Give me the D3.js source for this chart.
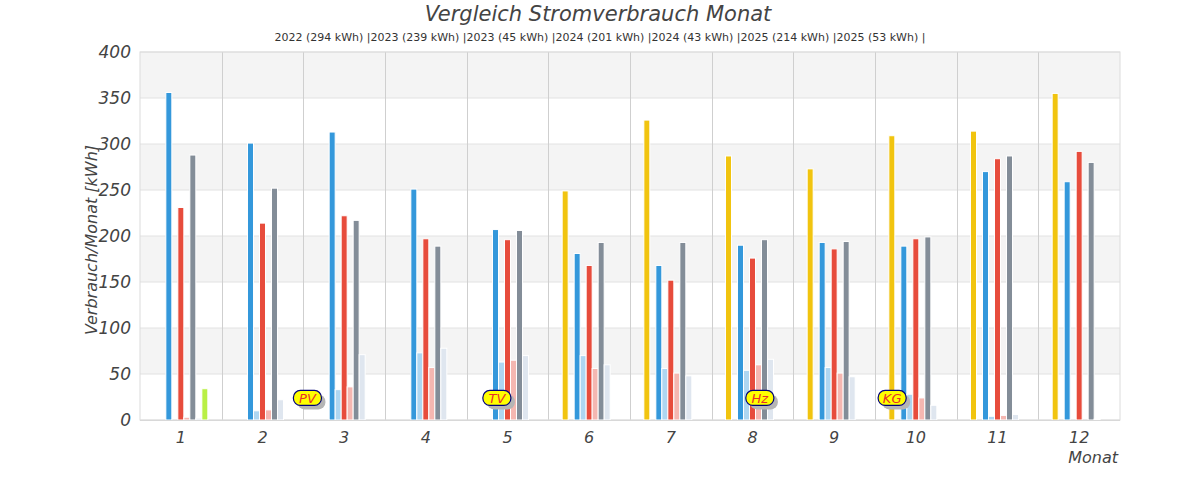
<!DOCTYPE html>
<html>
<head>
<meta charset="utf-8">
<script src="https://cdn.jsdelivr.net/npm/d3@7"></script>
<style>
  body { margin: 0; background: #fff; }
  text { font-family: "DejaVu Sans", sans-serif; }
</style>
</head>
<body>
<div id="container"></div>
<script>
// months on the x axis
const months = [1, 2, 3, 4, 5, 6, 7, 8, 9, 10, 11, 12];
// bar slots inside one month, "2022b" stays empty
const slots = ["2022", "2022b", "2023", "2023b", "2024", "2024b", "2025", "2025b", "extra"];

const v2022  = [0, 0, 0, 0, 0, 249, 326, 287, 273, 309, 314, 355];
const v2023  = [356, 301, 313, 251, 207, 181, 168, 190, 193, 189, 270, 259];
const v2023b = [0, 10, 33, 73, 63, 70, 56, 54, 57, 28, 4, 0];
const v2024  = [231, 214, 222, 197, 196, 168, 152, 176, 186, 197, 284, 292];
const v2024b = [3, 11, 36, 57, 65, 56, 51, 60, 51, 24, 5, 0];
const v2025  = [288, 252, 217, 189, 206, 193, 193, 196, 194, 199, 287, 280];
const v2025b = [2, 22, 71, 78, 70, 60, 48, 66, 47, 16, 6, 1];
const vExtra = [34, 0, 0, 0, 0, 0, 0, 0, 0, 0, 0, 0];

const legendText = "2022 (294 kWh) |2023 (239 kWh) |2023 (45 kWh) |2024 (201 kWh) |2024 (43 kWh) |2025 (214 kWh) |2025 (53 kWh) |";

// markers: label, position in months (fractional), value
const markLabels = ["PV", "TV", "Hz", "KG"];
const markPos = [3.05, 5.37, 8.59, 10.21];
const markVal = [24, 24, 24, 24];

const yTicks = [0, 50, 100, 150, 200, 250, 300, 350, 400];

const series = [
  { key: "2022",  values: v2022,  color: "#f1c40f" },
  { key: "2023",  values: v2023,  color: "#3498db" },
  { key: "2023b", values: v2023b, color: "#aed6f1" },
  { key: "2024",  values: v2024,  color: "#e74c3c" },
  { key: "2024b", values: v2024b, color: "#f5b7b1" },
  { key: "2025",  values: v2025,  color: "#838d98" },
  { key: "2025b", values: v2025b, color: "#dfe6ef" },
  { key: "extra", values: vExtra, color: "#b9f045" }
];

const width = 1200, height = 500;
const margin = { top: 52, right: 80, bottom: 80, left: 140 };
const innerW = width - margin.left - margin.right;
const innerH = height - margin.top - margin.bottom;

const svg = d3.select("#container").append("svg")
  .attr("width", width).attr("height", height);

const g = svg.append("g")
  .attr("transform", "translate(" + margin.left + "," + margin.top + ")");

const x0 = d3.scaleBand().domain(months).range([0, innerW]).padding(0);
const bw = x0.bandwidth();
const x1 = d3.scaleBand().domain(slots).range([bw / 2 - 27, bw / 2 + 27]).padding(0);
const xm = d3.scaleLinear().domain([1, 13]).range([0, innerW]);
const y = d3.scaleLinear().domain([0, 400]).range([innerH, 0]);

// alternating bands
const bands = yTicks.slice(0, -1);
g.selectAll("rect.band").data(bands).enter().append("rect")
  .attr("class", "band")
  .attr("x", 0).attr("width", innerW)
  .attr("y", d => y(d + 50)).attr("height", d => y(d) - y(d + 50))
  .attr("fill", (d, i) => i % 2 === 1 ? "#f4f4f4" : "#fff");

// horizontal grid
g.selectAll("line.hg").data(yTicks).enter().append("line")
  .attr("x1", 0).attr("x2", innerW)
  .attr("y1", d => y(d)).attr("y2", d => y(d))
  .attr("stroke", "#e2e2e2").attr("stroke-width", 1);

// vertical grid between months
g.selectAll("line.vg").data(months.slice(1)).enter().append("line")
  .attr("x1", d => Math.round(x0(d)) + 0.5).attr("x2", d => Math.round(x0(d)) + 0.5)
  .attr("y1", 0).attr("y2", innerH)
  .attr("stroke", "#cfcfcf").attr("stroke-width", 1);

g.append("rect").attr("x", 0).attr("y", 0).attr("width", innerW).attr("height", innerH)
  .attr("fill", "none").attr("stroke", "#dcdcdc");

// bars
series.forEach(s => {
  g.selectAll(null).data(s.values.map((v, i) => ({ m: months[i], v: v })).filter(d => d.v > 0))
    .enter().append("rect")
    .attr("x", d => x0(d.m) + x1(s.key))
    .attr("width", x1.bandwidth())
    .attr("y", d => y(d.v))
    .attr("height", d => y(0) - y(d.v))
    .attr("fill", s.color)
    .attr("stroke", "#fff")
    .attr("stroke-width", 1);
});

// baseline
g.append("line").attr("x1", 0).attr("x2", innerW).attr("y1", innerH + 0.5).attr("y2", innerH + 0.5)
  .attr("stroke", "#d8d8d8");

// marker labels
const mk = g.selectAll("g.mk").data(markLabels).enter().append("g")
  .attr("transform", (d, i) => "translate(" + xm(markPos[i]) + "," + y(markVal[i]) + ")");
mk.append("rect").attr("x", -10).attr("y", -3.5).attr("width", 28).attr("height", 15).attr("rx", 7)
  .attr("fill", "#b5b5b5");
mk.append("rect").attr("x", -14).attr("y", -7.5).attr("width", 28).attr("height", 15).attr("rx", 7)
  .attr("fill", "#ffff00").attr("stroke", "#00007a").attr("stroke-width", 1.2);
mk.append("text").text(d => d)
  .attr("text-anchor", "middle").attr("y", 5)
  .style("font-size", "13px").style("font-style", "italic").attr("fill", "#e8302a");

// y axis labels
g.selectAll("text.yt").data(yTicks).enter().append("text")
  .attr("x", -9).attr("y", d => y(d) + 6)
  .attr("text-anchor", "end")
  .style("font-size", "17px").style("font-style", "italic").attr("fill", "#444")
  .text(d => d);

// x axis labels
g.selectAll("text.xt").data(months).enter().append("text")
  .attr("x", d => x0(d) + bw / 2).attr("y", innerH + 23)
  .attr("text-anchor", "middle")
  .style("font-size", "16px").style("font-style", "italic").attr("fill", "#444")
  .text(d => d);

svg.append("text").attr("x", margin.left + innerW - 2).attr("y", 463)
  .attr("text-anchor", "end")
  .style("font-size", "16px").style("font-style", "italic").attr("fill", "#444")
  .text("Monat");

svg.append("text")
  .attr("transform", "translate(97,240) rotate(-90)")
  .attr("text-anchor", "middle")
  .style("font-size", "16px").style("font-style", "italic").attr("fill", "#444")
  .text("Verbrauch/Monat [kWh]");

// title
svg.append("text").attr("x", 598).attr("y", 21)
  .attr("text-anchor", "middle")
  .style("font-size", "21px").style("font-style", "italic").attr("fill", "#444")
  .text("Vergleich Stromverbrauch Monat");

svg.append("text").attr("x", 600).attr("y", 41)
  .attr("text-anchor", "middle")
  .style("font-size", "11px").attr("fill", "#333")
  .text(legendText);
</script>
</body>
</html>
